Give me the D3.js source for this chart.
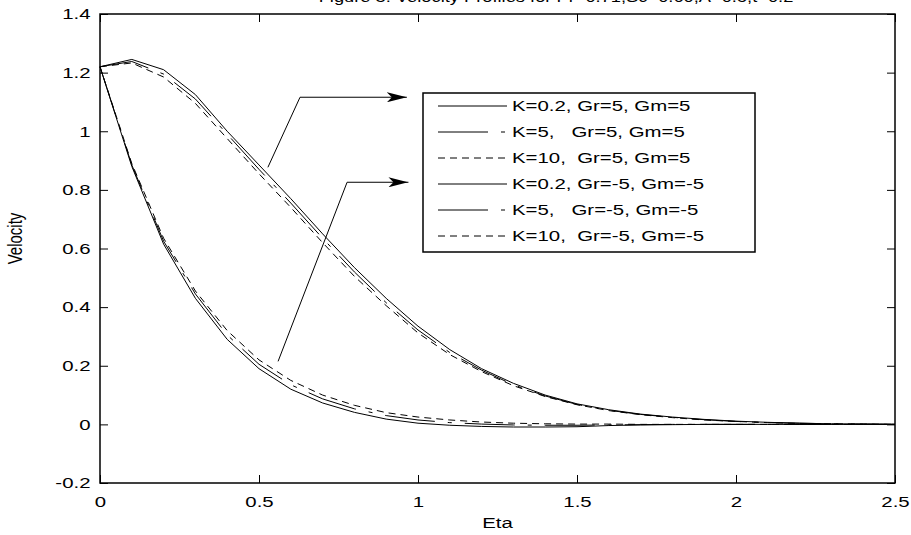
<!DOCTYPE html>
<html>
<head>
<meta charset="utf-8">
<script src="https://cdn.jsdelivr.net/npm/d3@7"></script>
<style>
  body { margin: 0; background: #fff; }
  svg { display: block; font-family: Arial, "Liberation Sans", sans-serif; }
  .axis path, .axis line { stroke: #000; }
  .axis text { font-size: 15px; fill: #000; }
</style>
</head>
<body>
<svg width="911" height="535"></svg>
<script>
// eta grid (step 0.1) and velocity profiles
var eta = [0,0.1,0.2,0.3,0.4,0.5,0.6,0.7,0.8,0.9,1.0,1.1,1.2,1.3,1.4,1.5,1.6,1.7,1.8,1.9,2.0,2.1,2.2,2.3,2.4,2.5];

var upK02 = [1.22,1.245,1.21,1.125,1.0,0.885,0.77,0.65,0.535,0.43,0.335,0.255,0.19,0.14,0.10,0.07,0.05,0.035,0.025,0.017,0.011,0.007,0.004,0.002,0.001,0];
var upK5  = [1.22,1.238,1.195,1.11,0.99,0.87,0.755,0.635,0.52,0.415,0.322,0.245,0.185,0.135,0.097,0.068,0.048,0.034,0.024,0.016,0.010,0.006,0.004,0.002,0.001,0];
var upK10 = [1.22,1.233,1.185,1.095,0.975,0.855,0.74,0.62,0.505,0.405,0.312,0.238,0.18,0.132,0.095,0.067,0.047,0.033,0.023,0.015,0.010,0.006,0.003,0.002,0.001,0];

var loK02 = [1.22,0.88,0.615,0.43,0.29,0.19,0.12,0.073,0.041,0.018,0.004,-0.003,-0.007,-0.009,-0.009,-0.008,-0.004,-0.002,-0.001,0,0,0,0,0,0,0];
var loK5  = [1.22,0.885,0.625,0.445,0.305,0.205,0.135,0.087,0.053,0.030,0.015,0.006,0.001,-0.002,-0.003,-0.003,-0.002,-0.001,0,0,0,0,0,0,0,0];
var loK10 = [1.22,0.89,0.635,0.455,0.32,0.22,0.15,0.10,0.065,0.040,0.025,0.015,0.008,0.004,0.002,0.001,0.001,0,0,0,0,0,0,0,0,0];

var seriesNames = ["K=0.2, Gr=5, Gm=5", "K=5,   Gr=5, Gm=5", "K=10,  Gr=5, Gm=5",
                   "K=0.2, Gr=-5, Gm=-5", "K=5,   Gr=-5, Gm=-5", "K=10,  Gr=-5, Gm=-5"];
var seriesValues = [upK02, upK5, upK10, loK02, loK5, loK10];
var seriesDash = ["none", "50,13,4,13", "7,5", "none", "50,13,4,13", "7,5"];

var xTicks = [0, 0.5, 1, 1.5, 2, 2.5];
var yTicks = [-0.2, 0, 0.2, 0.4, 0.6, 0.8, 1, 1.2, 1.4];

// arrow annotations in data coordinates: start, bend, tip
var arrowUpper = [[0.528, 0.877], [0.629, 1.116], [0.965, 1.116]];
var arrowLower = [[0.560, 0.215], [0.777, 0.826], [0.970, 0.826]];

var titleText = "Figure 3: Velocity Profiles for Pr=0.71,Sc=0.60,A=0.5,t=0.2";

// the picture's text is stretched sideways
var stretch = 1.36;

var svg = d3.select("svg");
var border = { left: 100, right: 16, top: 14, bottom: 52 };
var width = 911 - border.left - border.right;
var height = 535 - border.top - border.bottom;

var g = svg.append("g")
  .attr("transform", "translate(" + border.left + "," + border.top + ")");

var xScale = d3.scaleLinear().domain([0, 2.5]).range([0, width]);
var yScale = d3.scaleLinear().domain([-0.2, 1.4]).range([height, 0]);

// matlab style labels with a plain hyphen for negatives
var fmt = function(d) { return String(+d.toFixed(1)); };

// axes, ticks inward like matlab
var tickLen = 8;
g.append("g").attr("class", "x axis")
  .attr("transform", "translate(0," + height + ")")
  .call(d3.axisBottom(xScale).tickValues(xTicks).tickSizeInner(-tickLen).tickSizeOuter(0).tickPadding(13).tickFormat(fmt));
g.append("g").attr("class", "x axis")
  .call(d3.axisTop(xScale).tickValues(xTicks).tickSizeInner(-tickLen).tickSizeOuter(0).tickFormat(""));
g.append("g").attr("class", "y axis")
  .call(d3.axisLeft(yScale).tickValues(yTicks).tickSizeInner(-tickLen).tickSizeOuter(0).tickPadding(7).tickFormat(fmt));
g.append("g").attr("class", "y axis")
  .attr("transform", "translate(" + width + ",0)")
  .call(d3.axisRight(yScale).tickValues(yTicks).tickSizeInner(-tickLen).tickSizeOuter(0).tickFormat(""));

g.selectAll(".axis path").remove();
g.selectAll(".axis text").attr("transform", "scale(" + stretch + ",1)");

g.append("rect")
  .attr("width", width).attr("height", height)
  .attr("fill", "none").attr("stroke", "#000").attr("stroke-width", 1.5);

// axis titles
g.append("text")
  .attr("transform", "translate(" + (width / 2) + "," + (height + 45) + ") scale(" + stretch + ",1)")
  .attr("text-anchor", "middle").attr("font-size", 15)
  .text("Eta");
g.append("text")
  .attr("transform", "translate(-78," + (yScale(0.6) - 10) + ") scale(" + stretch + ",1) rotate(-90)")
  .attr("text-anchor", "middle").attr("font-size", 15)
  .text("Velocity");

// title, mostly cut by the top edge
svg.append("text")
  .attr("transform", "translate(556,2) scale(1.22,1)")
  .attr("text-anchor", "middle").attr("font-size", 15)
  .text(titleText);

// curves
var line = d3.line()
  .x(function(d, i) { return xScale(eta[i]); })
  .y(function(d) { return yScale(d); });

g.selectAll("path.curve")
  .data(seriesValues)
  .enter()
  .append("path")
    .attr("class", "curve")
    .attr("d", line)
    .attr("fill", "none")
    .attr("stroke", "#000")
    .attr("stroke-width", 1)
    .attr("stroke-dasharray", function(d, i) { return seriesDash[i]; });

// arrows
svg.append("defs").append("marker")
  .attr("id", "head")
  .attr("viewBox", "0 0 20 10")
  .attr("refX", 20).attr("refY", 5)
  .attr("markerWidth", 20).attr("markerHeight", 10)
  .attr("markerUnits", "userSpaceOnUse")
  .attr("orient", "auto")
  .append("path")
    .attr("d", "M0,0 L20,5 L0,10 L5,5 Z")
    .attr("fill", "#000");

var arrowLine = d3.line()
  .x(function(d) { return xScale(d[0]); })
  .y(function(d) { return yScale(d[1]); });

g.selectAll("path.arrow")
  .data([arrowUpper, arrowLower])
  .enter()
  .append("path")
    .attr("class", "arrow")
    .attr("d", arrowLine)
    .attr("fill", "none")
    .attr("stroke", "#000")
    .attr("stroke-width", 1)
    .attr("marker-end", "url(#head)");

// legend
var legend = svg.append("g").attr("transform", "translate(423,93)");
legend.append("rect")
  .attr("width", 332).attr("height", 159)
  .attr("fill", "#fff").attr("stroke", "#000").attr("stroke-width", 1.5);

var rows = legend.selectAll("g.row")
  .data(seriesNames)
  .enter()
  .append("g")
    .attr("class", "row")
    .attr("transform", function(d, i) { return "translate(0," + (13 + i * 26) + ")"; });

rows.append("line")
  .attr("x1", 15).attr("x2", 84)
  .attr("stroke", "#000").attr("stroke-width", 1)
  .attr("stroke-dasharray", function(d, i) { return seriesDash[i]; });

rows.append("text")
  .attr("transform", "translate(89,0) scale(" + stretch + ",1)")
  .attr("dy", "0.35em")
  .attr("font-size", 15)
  .attr("xml:space", "preserve")
  .style("white-space", "pre")
  .text(function(d) { return d; });
</script>
</body>
</html>
